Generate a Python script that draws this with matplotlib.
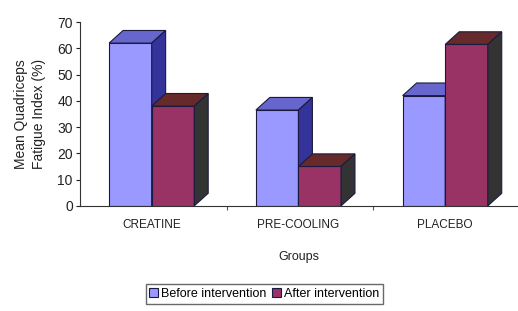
import numpy as np
import matplotlib
matplotlib.use("Agg")
import matplotlib.pyplot as plt
from matplotlib.patches import Polygon

groups = ["CREATINE", "PRE-COOLING", "PLACEBO"]
before = [62, 36.5, 42]
after = [38, 15, 61.5]
series_names = ["Before intervention", "After intervention"]

# front, top, side colours for each series
colors = {
    "before": ("#9999ff", "#6666cc", "#333399"),
    "after": ("#993366", "#662a2a", "#333333"),
}

plt.rcParams['font.family'] = ['Liberation Sans', 'DejaVu Sans']

fig = plt.figure(figsize=(5.18, 3.11), dpi=100)
ax = fig.add_axes([0.154, 0.338, 0.85, 0.591])

width = 0.29
dx = 0.095   # depth in x units
dy = 4.8     # depth in y units


def bar3d(x, h, cols):
    front, top, side = cols
    ax.bar(x, h, width, color=front, edgecolor="#1a1a40", linewidth=0.8, zorder=2)
    x0, x1 = x - width / 2, x + width / 2
    ax.add_patch(Polygon([(x0, h), (x1, h), (x1 + dx, h + dy), (x0 + dx, h + dy)],
                         closed=True, facecolor=top, edgecolor="#1a1a40", linewidth=0.8, zorder=2))
    ax.add_patch(Polygon([(x1, 0), (x1 + dx, dy), (x1 + dx, h + dy), (x1, h)],
                         closed=True, facecolor=side, edgecolor="#1a1a40", linewidth=0.8, zorder=2))


centers = np.arange(len(groups)) + 0.49
for i in range(len(groups)):
    bar3d(centers[i] - width / 2, before[i], colors["before"])
    bar3d(centers[i] + width / 2, after[i], colors["after"])

ax.set_xlim(0, 3)
ax.set_ylim(0, 70)
ax.set_yticks(range(0, 71, 10))
ax.set_xticks([1, 2])
ax.set_xticklabels([])
for i, g in enumerate(groups):
    ax.text(centers[i], -5, g, ha="center", va="top", fontsize=8.5, color="#222222")

ax.tick_params(axis="y", labelsize=10, length=3, width=0.8, colors="#222222", pad=2)
ax.tick_params(axis="x", length=3, width=0.8, colors="#555555")
for s in ["top", "right"]:
    ax.spines[s].set_visible(False)
ax.spines["left"].set_color("#333333")
ax.spines["bottom"].set_color("#333333")

ax.set_ylabel("Mean Quadriceps\nFatigue Index (%)", fontsize=10, color="#222222",
              labelpad=8, linespacing=1.35)
ax.text(1.49, -17, "Groups", ha="center", va="top", fontsize=9, color="#222222")

handles = [plt.Rectangle((0, 0), 1, 1, facecolor=colors["before"][0], edgecolor="#1a1a40", linewidth=0.8),
           plt.Rectangle((0, 0), 1, 1, facecolor=colors["after"][0], edgecolor="#1a1a40", linewidth=0.8)]
fig.legend(handles, series_names, loc="center", bbox_to_anchor=(0.51, 0.055), ncol=2,
           fontsize=9, frameon=True, fancybox=False, edgecolor="#444444",
           handlelength=0.7, handleheight=0.7, handletextpad=0.2, columnspacing=0.5,
           borderpad=0.3)

fig.savefig("out.png", dpi=100)
